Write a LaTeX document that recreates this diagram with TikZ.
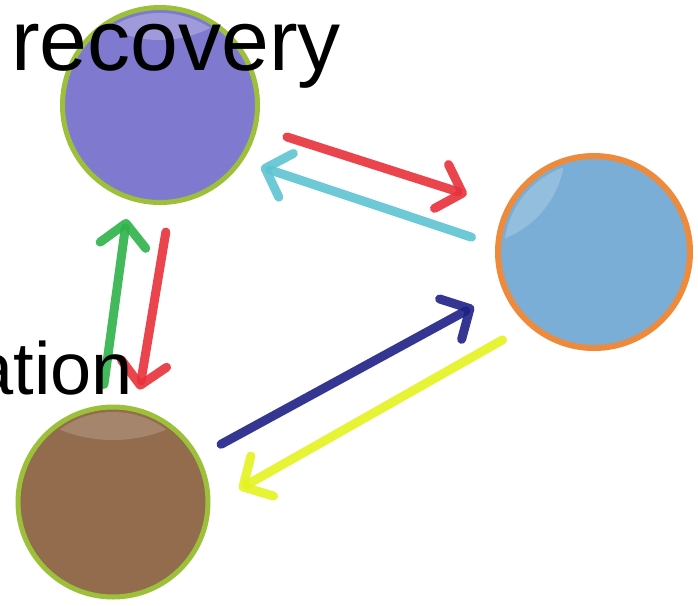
\documentclass[tikz,border=0pt]{standalone}
\usepackage{fontspec}
\setmainfont{Liberation Sans}
\usetikzlibrary{arrows.meta}

\definecolor{purplefill}{RGB}{127,122,207}
\definecolor{bluefill}{RGB}{122,174,214}
\definecolor{brownfill}{RGB}{146,108,76}
\definecolor{greenrim}{RGB}{157,192,58}
\definecolor{orangerim}{RGB}{238,138,60}
\definecolor{redarrow}{RGB}{232,48,58}
\definecolor{cyanarrow}{RGB}{94,195,211}
\definecolor{greenarrow}{RGB}{45,179,74}
\definecolor{navyarrow}{RGB}{30,32,133}
\definecolor{yellowarrow}{RGB}{228,242,31}

\tikzset{
  ball/.style={circle, inner sep=0pt, line width=5pt},
  stroke/.style={line width=9pt, line cap=round, opacity=0.9,
    -{Straight Barb[length=22pt,width=46pt,round]}},
}

\begin{document}
\begin{tikzpicture}[x=1pt, y=-1pt]
\useasboundingbox (0,0) rectangle (698,605);
% Balls
\node[ball, draw=greenrim, fill=purplefill, minimum size=195pt] (recovery) at (160,105) {};
\node[ball, draw=orangerim, fill=bluefill, minimum size=192pt, line width=6pt] (pool) at (594,252) {};
\node[ball, draw=greenrim, fill=brownfill, minimum size=190pt] (soil) at (113,502) {};

% Highlights
\begin{scope}
\clip (160,105) circle (92);
\fill[white, opacity=0.25] (160,-70) circle (110);
\end{scope}
\begin{scope}
\clip (594,252) circle (90);
\fill[white, opacity=0.2] (470,150) circle (95);
\end{scope}
\begin{scope}
\clip (113,502) circle (90);
\fill[white, opacity=0.18] (113,300) ellipse (140 and 140);
\end{scope}

% Arrows
\draw[stroke, redarrow, shorten <=31pt, shorten >=41pt] (recovery.-13.7) -- (pool.153.8);
\draw[stroke, cyanarrow, shorten <=25pt, shorten >=19pt] (pool.176.8) -- (recovery.-34.4);
\draw[stroke, greenarrow, shorten <=21pt, shorten >=19pt] (soil.97.8) -- (recovery.-108.6);
\draw[stroke, redarrow, shorten <=28pt, shorten >=18pt] (recovery.-84.2) -- (soil.76.4);
\draw[stroke, navyarrow, shorten <=25pt, shorten >=33pt] (soil.28.5) -- (pool.-157.7);
\draw[stroke, yellowarrow, shorten <=29pt, shorten >=33pt] (pool.-132.2) -- (soil.-2.6);

% Labels
\node[anchor=base west, inner sep=0pt, font=\fontsize{86}{90}\selectfont] (rlabel) at (11,70) {recovery};
\node[anchor=base east, inner sep=0pt, font=\fontsize{74}{78}\selectfont] (alabel) at (133,394) {ation};
\end{tikzpicture}
\end{document}
